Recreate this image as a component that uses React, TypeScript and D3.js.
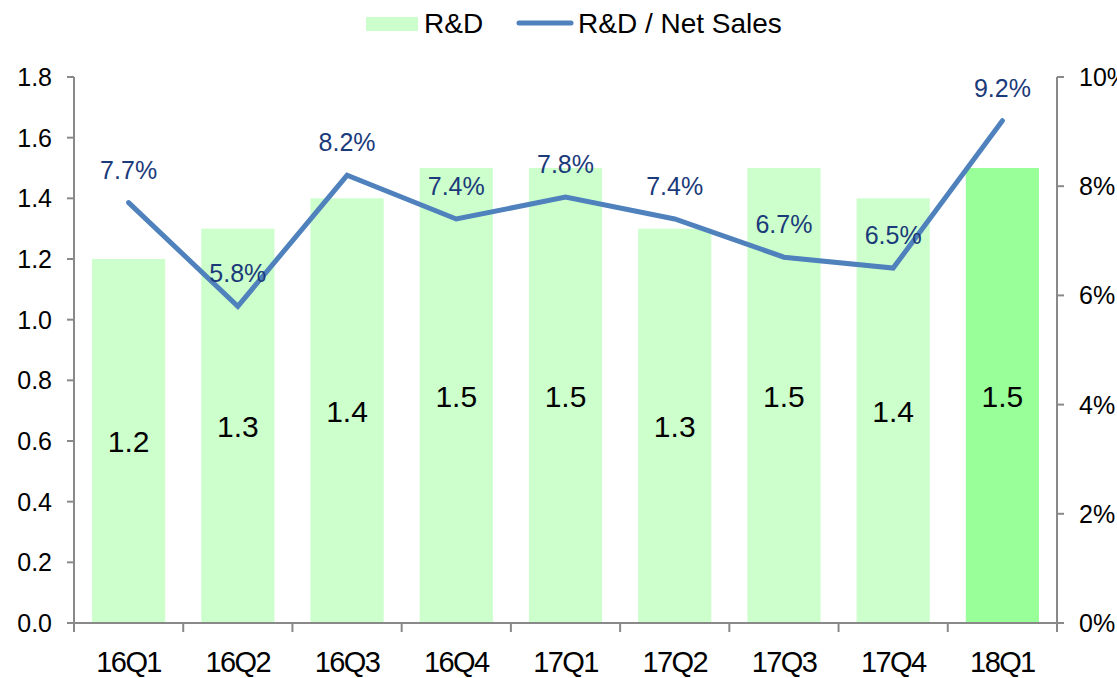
import React from "react";
import { scaleBand, scaleLinear, line } from "d3";

// chart data
const quarters = ["16Q1", "16Q2", "16Q3", "16Q4", "17Q1", "17Q2", "17Q3", "17Q4", "18Q1"];
const rdValues = [1.2, 1.3, 1.4, 1.5, 1.5, 1.3, 1.5, 1.4, 1.5];
const rdRatio = [7.7, 5.8, 8.2, 7.4, 7.8, 7.4, 6.7, 6.5, 9.2];
const leftTicks = [0, 0.2, 0.4, 0.6, 0.8, 1.0, 1.2, 1.4, 1.6, 1.8];
const rightTicks = [0, 2, 4, 6, 8, 10];

const FONT = "'Liberation Sans', Arial, sans-serif";

export default function App() {
  const width = 1117;
  const height = 678;
  const left = 74;
  const right = 1057;
  const top = 77;
  const bottom = 623;

  // scales
  const x = scaleBand<string>()
    .domain(quarters)
    .range([left, right])
    .paddingInner(0.33)
    .paddingOuter(0.165);

  const yLeft = scaleLinear().domain([0, 1.8]).range([bottom, top]);
  const yRight = scaleLinear().domain([0, 10]).range([bottom, top]);

  const cx = (q: string) => (x(q) as number) + x.bandwidth() / 2;

  const pathGen = line<number>()
    .x((_, i) => cx(quarters[i]))
    .y((d) => yRight(d));

  const axisColor = "#898989";

  return (
    <svg
      width={width}
      height={height}
      style={{ position: "absolute", left: 0, top: 0, display: "block", background: "#fff" }}
      fontFamily={FONT}
    >
      {/* legend */}
      <g>
        <rect x={366} y={17} width={52} height={14} fill="#CCFFCC" />
        <text x={424} y={33} fontSize={28} fill="#000">R&amp;D</text>
        <line x1={519} x2={571} y1={23} y2={23} stroke="#4F81BD" strokeWidth={5} strokeLinecap="round" />
        <text x={578} y={33} fontSize={28} fill="#000">R&amp;D / Net Sales</text>
      </g>

      {/* bars */}
      {rdValues.map((v, i) => (
        <rect
          key={i}
          x={x(quarters[i])}
          y={yLeft(v)}
          width={x.bandwidth()}
          height={bottom - yLeft(v)}
          fill={i === rdValues.length - 1 ? "#99FF99" : "#CCFFCC"}
        />
      ))}

      {/* bar labels */}
      {rdValues.map((v, i) => (
        <text
          key={i}
          x={cx(quarters[i])}
          y={(yLeft(v) + bottom) / 2 + 11}
          textAnchor="middle"
          fontSize={30}
          fill="#000"
        >
          {v.toFixed(1)}
        </text>
      ))}

      {/* left axis */}
      <line x1={left} x2={left} y1={top} y2={bottom} stroke={axisColor} strokeWidth={2} />
      {leftTicks.map((t, i) => (
        <g key={i} transform={`translate(0, ${yLeft(t)})`}>
          <line x1={left - 7} x2={left} stroke={axisColor} strokeWidth={2} />
          <text x={left - 22} y={9} textAnchor="end" fontSize={25} fill="#000">
            {t.toFixed(1)}
          </text>
        </g>
      ))}

      {/* right axis */}
      <line x1={right} x2={right} y1={top} y2={bottom} stroke={axisColor} strokeWidth={2} />
      {rightTicks.map((t, i) => (
        <g key={i} transform={`translate(0, ${yRight(t)})`}>
          <line x1={right} x2={right + 7} stroke={axisColor} strokeWidth={2} />
          <text x={right + 22} y={9} textAnchor="start" fontSize={25} fill="#000">
            {t}%
          </text>
        </g>
      ))}

      {/* bottom axis */}
      <line x1={left} x2={right} y1={bottom} y2={bottom} stroke={axisColor} strokeWidth={2} />
      {quarters.map((q, i) => (
        <line
          key={"t" + i}
          x1={left + i * x.step()}
          x2={left + i * x.step()}
          y1={bottom}
          y2={bottom + 9}
          stroke={axisColor}
          strokeWidth={2}
        />
      ))}
      <line x1={right} x2={right} y1={bottom} y2={bottom + 9} stroke={axisColor} strokeWidth={2} />
      {quarters.map((q, i) => (
        <text
          key={i}
          x={cx(q)}
          y={672}
          textAnchor="middle"
          fontSize={29}
          letterSpacing={-1.6}
          fill="#000"
        >
          {q}
        </text>
      ))}

      {/* ratio line */}
      <path
        d={pathGen(rdRatio) || ""}
        fill="none"
        stroke="#4F81BD"
        strokeWidth={5}
        strokeLinejoin="miter"
        strokeLinecap="round"
      />
      {rdRatio.map((v, i) => (
        <text
          key={i}
          x={cx(quarters[i])}
          y={yRight(v) - 24}
          textAnchor="middle"
          fontSize={25}
          fill="#1B3A7A"
        >
          {v.toFixed(1)}%
        </text>
      ))}
    </svg>
  );
}
